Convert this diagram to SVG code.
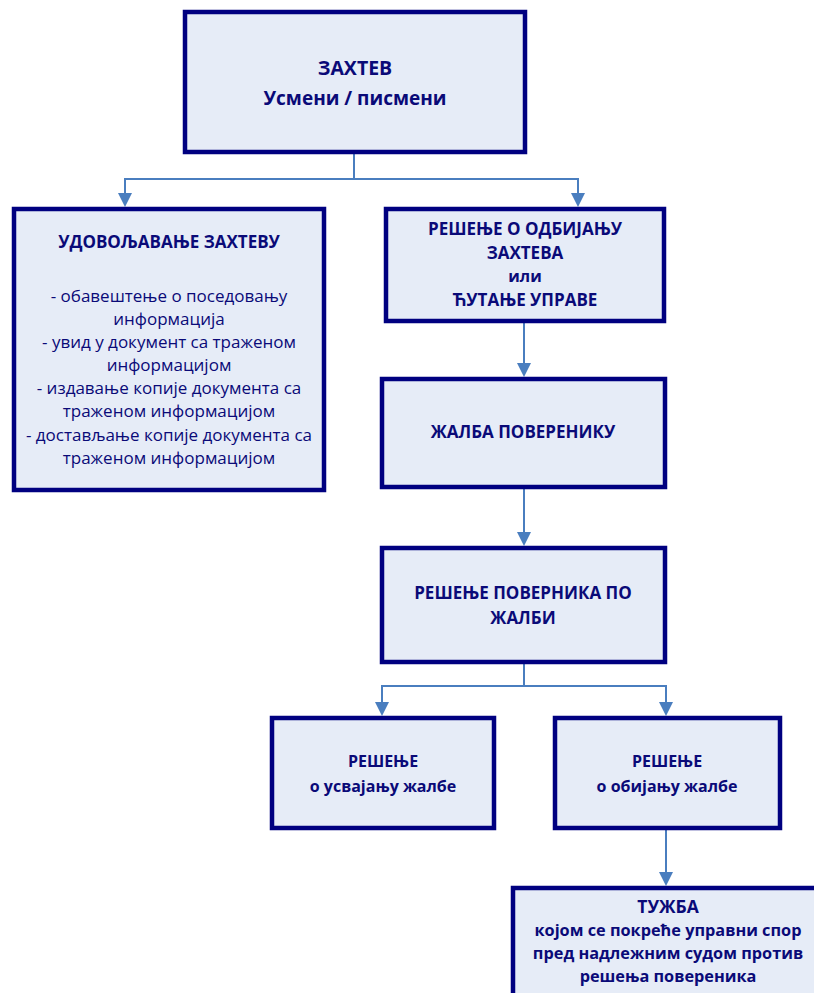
<svg xmlns="http://www.w3.org/2000/svg" width="814" height="993" viewBox="0 0 814 993">
<defs>
<style>
.box{fill:#E6ECF7;stroke:#000080;stroke-width:4.5}
.t{font-family:"Open Sans","Liberation Sans",Arial,sans-serif;fill:#0A0A78;text-anchor:middle}
.b{font-weight:bold}
.c{fill:none;stroke:#4A7EBF;stroke-width:2}
.h{fill:#4A7EBF}
</style>
</defs>
<rect width="814" height="993" fill="#FFFFFF"/>
<g id="connectors">
<polyline class="c" points="354,154 354,179 125,179 125,194"/>
<path class="h" d="M118,193 L132,193 L125,207 Z"/>
<polyline class="c" points="354,179 578,179 578,194"/>
<path class="h" d="M571,193 L585,193 L578,207 Z"/>
<line class="c" x1="524" y1="323" x2="524" y2="364"/>
<path class="h" d="M517,363 L531,363 L524,377 Z"/>
<line class="c" x1="524" y1="489" x2="524" y2="533"/>
<path class="h" d="M517,532 L531,532 L524,546 Z"/>
<polyline class="c" points="524,664 524,686 382,686 382,703"/>
<path class="h" d="M375,702 L389,702 L382,716 Z"/>
<polyline class="c" points="524,686 666,686 666,703"/>
<path class="h" d="M659,702 L673,702 L666,716 Z"/>
<line class="c" x1="666" y1="830" x2="666" y2="873"/>
<path class="h" d="M659,872 L673,872 L666,886 Z"/>
</g>
<g id="zahtev">
<rect class="box" x="185" y="12" width="340" height="140"/>
<text class="t b" x="355" y="75" font-size="19.5">ЗАХТЕВ</text>
<text class="t b" x="355" y="105" font-size="19">Усмени / писмени</text>
</g>
<g id="udovoljavanje">
<rect class="box" x="14" y="209" width="310" height="281"/>
<text class="t b" x="169" y="248" font-size="17">УДОВОЉАВАЊЕ ЗАХТЕВУ</text>
<text class="t" x="169" font-size="17"><tspan x="169" y="302">- обавештење о поседовању</tspan><tspan x="169" y="325">информација</tspan><tspan x="169" y="348">- увид у документ са траженом</tspan><tspan x="169" y="371">информацијом</tspan><tspan x="169" y="394">- издавање копије документа са</tspan><tspan x="169" y="417">траженом информацијом</tspan><tspan x="169" y="441">- достављање копије документа са</tspan><tspan x="169" y="464">траженом информацијом</tspan></text>
</g>
<g id="odbijanje">
<rect class="box" x="386" y="209" width="278" height="112"/>
<text class="t b" x="525" font-size="17"><tspan x="525" y="235">РЕШЕЊЕ О ОДБИЈАЊУ</tspan><tspan x="525" y="259">ЗАХТЕВА</tspan><tspan x="525" y="282" font-size="16">или</tspan><tspan x="525" y="306">ЋУТАЊЕ УПРАВЕ</tspan></text>
</g>
<g id="zalba">
<rect class="box" x="382" y="379" width="283" height="108"/>
<text class="t b" x="523" y="438" font-size="17">ЖАЛБА ПОВЕРЕНИКУ</text>
</g>
<g id="resenje-poverenika">
<rect class="box" x="382" y="548" width="283" height="114"/>
<text class="t b" x="523" font-size="17"><tspan x="523" y="599">РЕШЕЊЕ ПОВЕРНИКА ПО</tspan><tspan x="523" y="624">ЖАЛБИ</tspan></text>
</g>
<g id="usvajanje">
<rect class="box" x="272" y="718" width="222" height="110"/>
<text class="t b" x="383" font-size="16"><tspan x="383" y="767">РЕШЕЊЕ</tspan><tspan x="383" y="792">о усвајању жалбе</tspan></text>
</g>
<g id="odbijanje-zalbe">
<rect class="box" x="555" y="718" width="225" height="110"/>
<text class="t b" x="667" font-size="16"><tspan x="667" y="767">РЕШЕЊЕ</tspan><tspan x="667" y="792">о обијању жалбе</tspan></text>
</g>
<g id="tuzba">
<rect class="box" x="513" y="888" width="310" height="120"/>
<text class="t b" x="668" font-size="16.3"><tspan x="668" y="913" font-size="17.5">ТУЖБА</tspan><tspan x="668" y="936">којом се покреће управни спор</tspan><tspan x="668" y="959">пред надлежним судом против</tspan><tspan x="668" y="982">решења повереника</tspan></text>
</g>
</svg>
